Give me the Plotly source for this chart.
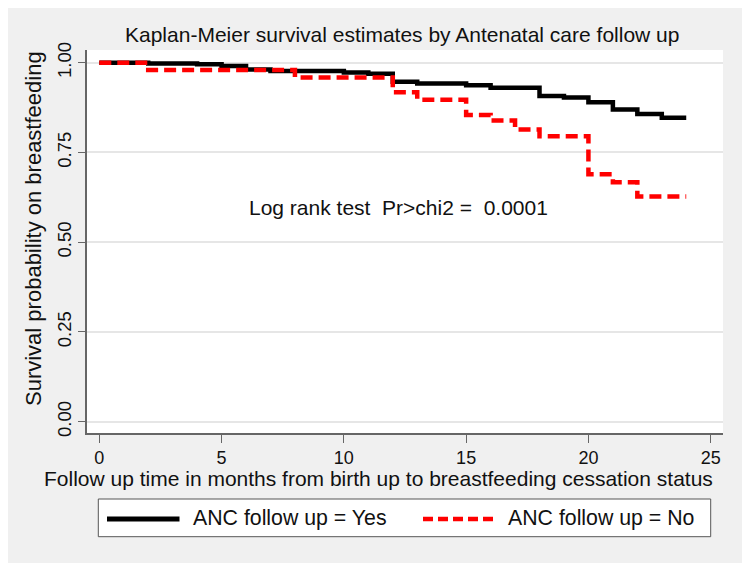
import plotly.graph_objects as go

# ---------------- data ----------------
yes_time = [0, 2, 4, 5, 6, 7, 10, 11, 12, 13, 15, 16, 18, 19, 20, 21, 22, 23, 24]
yes_surv = [1.0, 0.998, 0.996, 0.991, 0.981, 0.977, 0.973, 0.969, 0.947, 0.942,
            0.937, 0.930, 0.907, 0.903, 0.890, 0.870, 0.857, 0.847, 0.847]
no_time = [0, 2, 8, 12, 13, 15, 16, 17, 18, 20, 21, 22, 24]
no_surv = [1.0, 0.980, 0.959, 0.918, 0.897, 0.854, 0.839, 0.814, 0.795,
           0.689, 0.667, 0.627, 0.627]
x_ticks = [0, 5, 10, 15, 20, 25]
y_ticks = [0, 0.25, 0.5, 0.75, 1.0]
y_ticktext = ["0.00", "0.25", "0.50", "0.75", "1.00"]
series_names = ["ANC follow up = Yes", "ANC follow up = No"]

title_text = "Kaplan-Meier survival estimates by Antenatal care follow up"
xtitle_text = "Follow up time in months from birth up to breastfeeding cessation status"
ytitle_text = "Survival probability on breastfeeding"
note_text = "Log rank test\u00a0\u00a0Pr>chi2 =\u00a0\u00a00.0001"

# ---------------- layout geometry ----------------
# page body has an 8px margin; figure occupies screen x 8..742, y 8..563
OFF = 8
W, H = 734, 555
# plot area in screen pixels
L, R, T, B = 87, 723, 50, 433
FONT = "Liberation Sans, Arial, sans-serif"
BG = "#f0f0f0"


def px(x):
    return (x - L) / (R - L)


def py(y):
    return (B - y) / (B - T)


fig = go.Figure()
fig.add_trace(go.Scatter(x=yes_time, y=yes_surv, mode="lines", line_shape="hv",
                         name=series_names[0],
                         line=dict(color="black", width=4.5), showlegend=False))
fig.add_trace(go.Scatter(x=no_time, y=no_surv, mode="lines", line_shape="hv",
                         name=series_names[1],
                         line=dict(color="#ff0000", width=4.5, dash="12px,6px"),
                         showlegend=False))

shapes = []
# legend box
shapes.append(dict(type="rect", xref="paper", yref="paper", layer="above",
                   x0=px(98.3), x1=px(710.7), y0=py(536.7), y1=py(499),
                   fillcolor="white", line=dict(color="#555555", width=1)))
shapes.append(dict(type="line", xref="paper", yref="paper", layer="above",
                   x0=px(107), x1=px(179.5), y0=py(519), y1=py(519),
                   line=dict(color="black", width=5)))
shapes.append(dict(type="line", xref="paper", yref="paper", layer="above",
                   x0=px(423), x1=px(496), y0=py(519), y1=py(519),
                   line=dict(color="#ff0000", width=4.5, dash="10px,5px")))

annotations = [
    dict(text=title_text, x=px(402), y=py(34.5), xref="paper", yref="paper",
         showarrow=False, xanchor="center", yanchor="middle",
         font=dict(family=FONT, size=21, color="#111111")),
    dict(text=xtitle_text, x=px(378), y=py(478.5), xref="paper", yref="paper",
         showarrow=False, xanchor="center", yanchor="middle",
         font=dict(family=FONT, size=21, color="#111111")),
    dict(text=ytitle_text, x=px(33.5), y=py(228.5), xref="paper", yref="paper",
         showarrow=False, xanchor="center", yanchor="middle", textangle=-90,
         font=dict(family=FONT, size=22, color="#111111")),
    dict(text=note_text, x=px(398.3), y=py(208), xref="paper", yref="paper",
         showarrow=False, xanchor="center", yanchor="middle",
         font=dict(family=FONT, size=21, color="#111111")),
    dict(text=series_names[0], x=px(190.7), y=py(518), xref="paper", yref="paper",
         showarrow=False, xanchor="left", yanchor="middle",
         font=dict(family=FONT, size=21.3, color="#111111")),
    dict(text=series_names[1], x=px(506), y=py(518), xref="paper", yref="paper",
         showarrow=False, xanchor="left", yanchor="middle",
         font=dict(family=FONT, size=21.3, color="#111111")),
]

fig.update_layout(
    width=W, height=H,
    margin=dict(l=L - OFF, r=W - (R - OFF), t=T - OFF, b=H - (B - OFF), pad=0),
    paper_bgcolor=BG, plot_bgcolor="white",
    font=dict(family=FONT, size=18, color="#111111"),
    shapes=shapes, annotations=annotations,
    showlegend=False,
)
fig.update_xaxes(range=[-0.503, 25.503], tickvals=x_ticks, ticks="outside",
                 ticklen=8, tickwidth=1.2, tickcolor="#666666",
                 showline=True, linecolor="#666666", linewidth=1.5,
                 showgrid=False, zeroline=False,
                 tickfont=dict(family=FONT, size=18, color="#111111"))
fig.update_yaxes(range=[-0.0315, 1.0354], tickvals=y_ticks, ticktext=y_ticktext,
                 tickangle=-90, ticks="outside", ticklen=7, tickwidth=1.2,
                 tickcolor="#666666", showline=True, linecolor="#666666",
                 linewidth=1.5, showgrid=True, gridcolor="#e6e6e6", gridwidth=1.5,
                 zeroline=False,
                 tickfont=dict(family=FONT, size=18.5, color="#111111"))

fig.write_html("out.html")
